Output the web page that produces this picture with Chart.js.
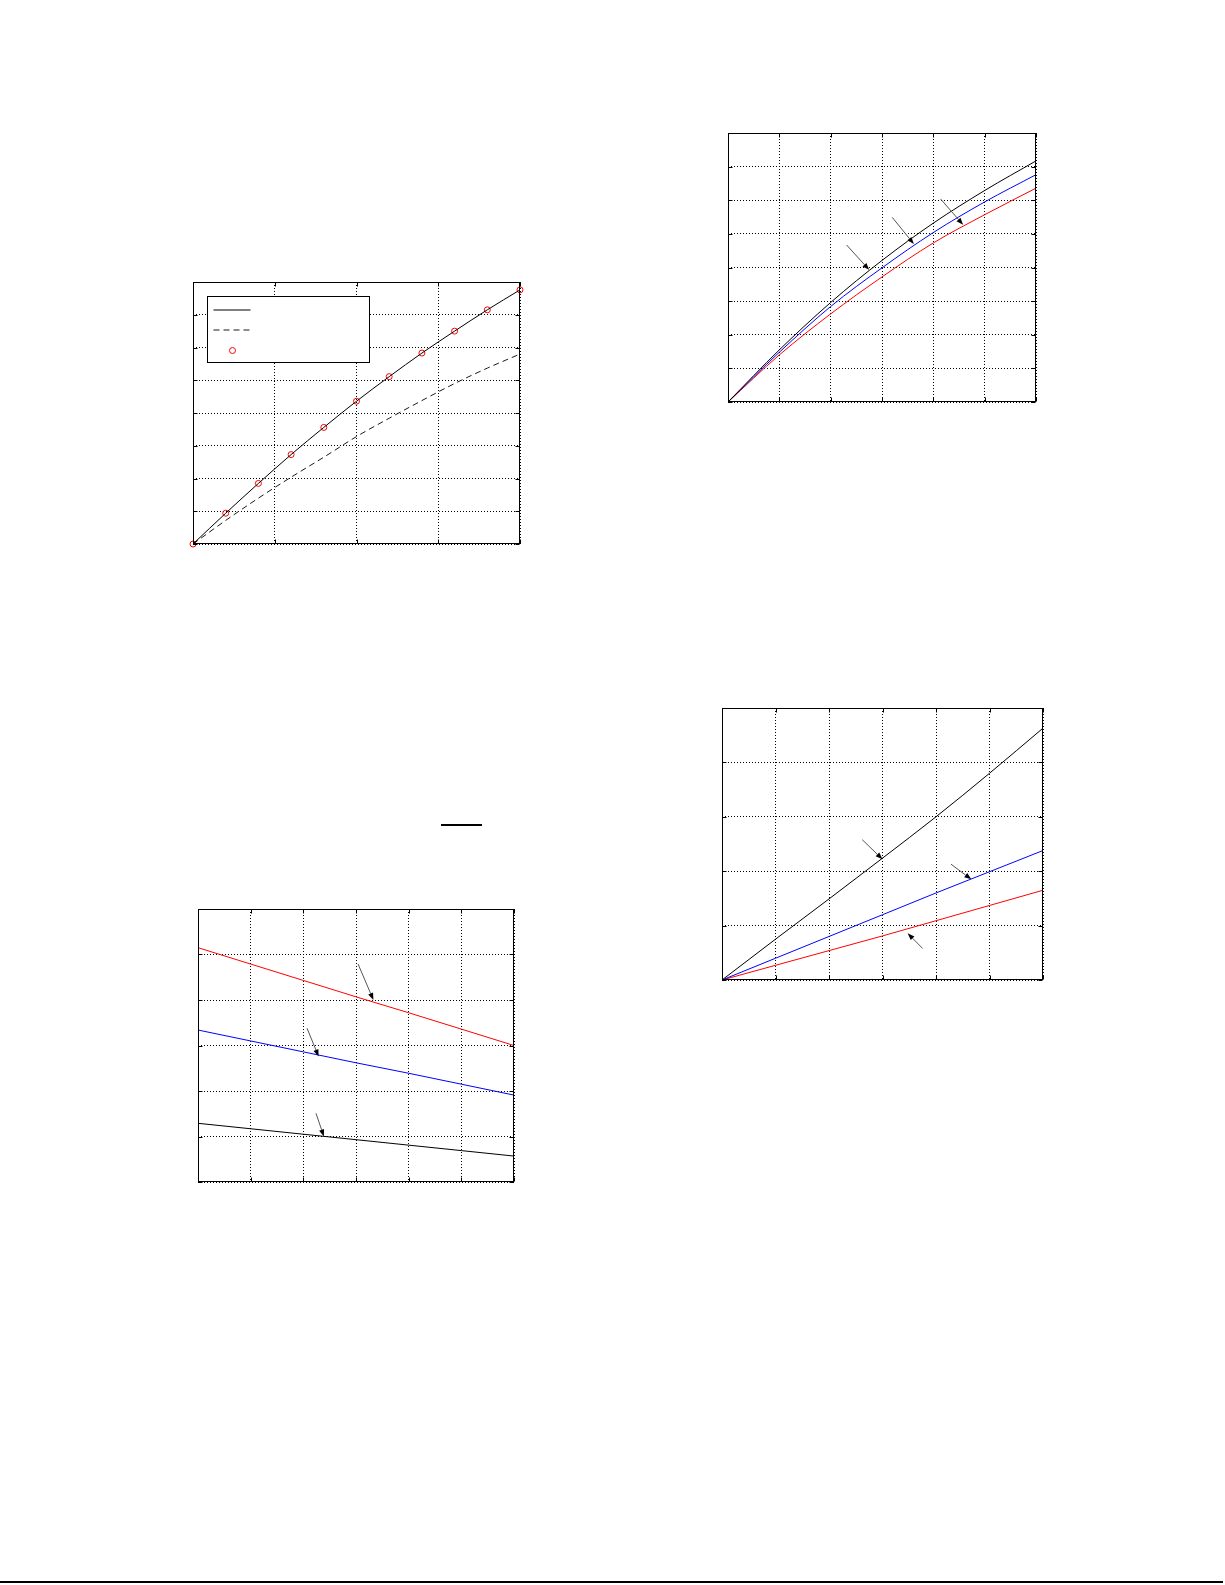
<!DOCTYPE html>
<html>
<head>
<meta charset="utf-8">
<script src="https://cdn.jsdelivr.net/npm/chart.js@4.4.1/dist/chart.umd.min.js"></script>
<style>
html{margin:0;padding:0;background:#fff;width:1225px;height:1585px;overflow:hidden;}
body{margin:0;padding:0;background:#fff;width:1225px;height:1585px;position:relative;overflow:hidden;font-family:"DejaVu Sans",sans-serif;}
::-webkit-scrollbar{display:none;width:0;height:0;}
.box{position:absolute;}
.box canvas{display:block;}
.rule{position:absolute;background:#000;}
</style>
</head>
<body>
<div class="box" id="b1"><canvas id="c1"></canvas></div>
<div class="box" id="b2"><canvas id="c2"></canvas></div>
<div class="box" id="b3"><canvas id="c3"></canvas></div>
<div class="box" id="b4"><canvas id="c4"></canvas></div>
<div class="rule" style="left:441px;top:824px;width:41px;height:2px"></div>
<div class="rule" style="left:0;top:1581px;width:1223px;height:2px"></div>
<script>
// ---------- Chart 1 (top left) ----------
const c1X       = [0, 0.4, 0.8, 1.2, 1.6, 2.0, 2.4, 2.8, 3.2, 3.6, 4.0];
const c1Solid   = [0, 0.94, 1.85, 2.73, 3.56, 4.36, 5.11, 5.83, 6.50, 7.15, 7.76];
const c1Dashed  = [0, 0.72, 1.40, 2.04, 2.65, 3.28, 3.84, 4.38, 4.90, 5.37, 5.80];
const c1Circles = [0, 0.94, 1.85, 2.73, 3.56, 4.36, 5.11, 5.83, 6.50, 7.15, 7.76];
const c1XMax = 4, c1YMax = 8;

// ---------- Chart 2 (top right) ----------
const c2X     = [0, 1, 2, 3, 4, 5, 6];
const c2Black = [0, 1.55, 2.96, 4.21, 5.32, 6.29, 7.17];
const c2Blue  = [0, 1.48, 2.84, 3.99, 5.04, 5.95, 6.76];
const c2Red   = [0, 1.40, 2.62, 3.72, 4.73, 5.57, 6.36];
const c2XMax = 6, c2YMax = 8;
const c2Arrows = [[2.31, 4.67, 2.75, 3.93], [3.20, 5.49, 3.62, 4.70], [4.14, 6.04, 4.58, 5.27]];

// ---------- Chart 3 (bottom left) ----------
const c3X     = [0, 1, 2, 3, 4, 5, 6];
const c3Red   = [5.15, 4.79, 4.43, 4.07, 3.72, 3.36, 3.00];
const c3Blue  = [3.34, 3.10, 2.86, 2.62, 2.39, 2.15, 1.91];
const c3Black = [1.29, 1.17, 1.05, 0.93, 0.81, 0.69, 0.57];
const c3XMax = 6, c3YMax = 6;
const c3Arrows = [[3.04, 4.79, 3.33, 4.0], [2.07, 3.38, 2.29, 2.76], [2.24, 1.51, 2.39, 1.0]];

// ---------- Chart 4 (bottom right) ----------
const c4X     = [0, 1, 2, 3, 4, 5, 6];
const c4Black = [0, 0.75, 1.49, 2.24, 3.00, 3.80, 4.63];
const c4Blue  = [0, 0.40, 0.80, 1.20, 1.60, 1.99, 2.38];
const c4Red   = [0, 0.27, 0.54, 0.81, 1.09, 1.37, 1.65];
const c4XMax = 6, c4YMax = 5;
const c4Arrows = [[2.62, 2.58, 3.0, 2.22], [4.28, 2.13, 4.66, 1.85], [3.75, 0.58, 3.47, 0.86]];

// ---------- layout (plot frames on the page) ----------
const PAD = 6;
const frames = {
  1: [193, 282, 327, 262],
  2: [728, 133, 308, 269],
  3: [198, 909, 316, 273],
  4: [722, 708, 321, 272]
};

const pts = (xs, ys) => xs.map((x, i) => ({x: x, y: ys[i]}));

const framePlugin = {
  id: 'frame',
  afterDraw(chart) {
    const {ctx, chartArea: a, scales: {x, y}} = chart;
    ctx.save();
    ctx.setLineDash([]);
    ctx.strokeStyle = '#000';
    ctx.lineWidth = 1;
    const L = Math.round(a.left) + 0.5, R = Math.round(a.right) - 0.5;
    const T = Math.round(a.top) + 0.5, B = Math.round(a.bottom) - 0.5;
    ctx.strokeRect(L, T, R - L, B - T);
    const t = 4;
    ctx.beginPath();
    x.ticks.forEach(tk => {
      const px = Math.round(x.getPixelForValue(tk.value)) + 0.5;
      ctx.moveTo(px, B); ctx.lineTo(px, B - t);
      ctx.moveTo(px, T); ctx.lineTo(px, T + t);
    });
    y.ticks.forEach(tk => {
      const py = Math.round(y.getPixelForValue(tk.value)) + 0.5;
      ctx.moveTo(L, py); ctx.lineTo(L + t, py);
      ctx.moveTo(R, py); ctx.lineTo(R - t, py);
    });
    ctx.stroke();
    ctx.restore();
  }
};

function arrowPlugin(list) {
  return {
    id: 'arrows',
    afterDatasetsDraw(chart) {
      const {ctx, scales: {x, y}} = chart;
      ctx.save();
      list.forEach(ar => {
        const x0 = x.getPixelForValue(ar[0]), y0 = y.getPixelForValue(ar[1]);
        const x1 = x.getPixelForValue(ar[2]), y1 = y.getPixelForValue(ar[3]);
        const ang = Math.atan2(y1 - y0, x1 - x0);
        const hl = 7, hw = 2.6;
        const bx = x1 - hl * Math.cos(ang), by = y1 - hl * Math.sin(ang);
        ctx.setLineDash([]);
        ctx.strokeStyle = '#555';
        ctx.lineWidth = 1;
        ctx.beginPath(); ctx.moveTo(x0, y0); ctx.lineTo(bx, by); ctx.stroke();
        ctx.fillStyle = '#000';
        ctx.beginPath();
        ctx.moveTo(x1, y1);
        ctx.lineTo(bx + hw * Math.sin(ang), by - hw * Math.cos(ang));
        ctx.lineTo(bx - hw * Math.sin(ang), by + hw * Math.cos(ang));
        ctx.closePath(); ctx.fill();
      });
      ctx.restore();
    }
  };
}

const boxLegend = {
  id: 'boxLegend',
  afterDatasetsDraw(chart) {
    const {ctx, chartArea: a} = chart;
    const ds = chart.data.datasets;
    const L = Math.round(a.left + 14) + 0.5, T = Math.round(a.top + 14) + 0.5, W = 162, H = 66;
    ctx.save();
    ctx.fillStyle = '#fff';
    ctx.fillRect(L, T, W, H);
    ctx.strokeStyle = '#000'; ctx.lineWidth = 1; ctx.setLineDash([]);
    ctx.strokeRect(L, T, W, H);
    const rows = [13.5, 33.5, 54];
    [0, 1].forEach(i => {
      ctx.strokeStyle = ds[i].borderColor;
      ctx.lineWidth = ds[i].borderWidth;
      ctx.setLineDash(ds[i].borderDash || []);
      ctx.beginPath();
      ctx.moveTo(L + 6, T + rows[i]); ctx.lineTo(L + 43, T + rows[i]);
      ctx.stroke();
    });
    ctx.setLineDash([]);
    ctx.strokeStyle = ds[2].pointBorderColor;
    ctx.lineWidth = 1;
    ctx.beginPath(); ctx.arc(L + 25, T + rows[2], ds[2].pointRadius, 0, Math.PI * 2); ctx.stroke();
    ctx.restore();
  }
};

function makeChart(id, xMax, yMax, datasets, plugins) {
  const f = frames[id];
  const div = document.getElementById('b' + id);
  div.style.left = (f[0] - PAD) + 'px';
  div.style.top = (f[1] - PAD) + 'px';
  const w = f[2] + 2 * PAD, h = f[3] + 2 * PAD;
  const cv = document.getElementById('c' + id);
  cv.width = w; cv.height = h;
  cv.style.width = w + 'px'; cv.style.height = h + 'px';
  const axis = (max) => ({
    type: 'linear', min: 0, max: max,
    ticks: {display: false, stepSize: 1},
    grid: {display: true, color: '#000', lineWidth: 1, drawTicks: false},
    border: {display: false, dash: [1, 2]}
  });
  return new Chart(cv, {
    type: 'line',
    data: {datasets: datasets},
    options: {
      responsive: false,
      animation: false,
      events: [],
      layout: {padding: PAD},
      plugins: {legend: {display: false}, tooltip: {enabled: false}, title: {display: false}},
      elements: {point: {radius: 0}, line: {borderWidth: 1}},
      scales: {x: axis(xMax), y: axis(yMax)}
    },
    plugins: [framePlugin].concat(plugins)
  });
}

const lineDs = (xs, ys, color, extra) => Object.assign({
  data: pts(xs, ys), borderColor: color, backgroundColor: color,
  borderWidth: 1, pointRadius: 0, fill: false,
  cubicInterpolationMode: 'monotone'
}, extra || {});

makeChart(1, c1XMax, c1YMax, [
  lineDs(c1X, c1Solid, '#000'),
  lineDs(c1X, c1Dashed, '#1a1a1a', {borderDash: [6, 4]}),
  {data: pts(c1X, c1Circles), showLine: false, pointRadius: 3, pointStyle: 'circle',
   pointBorderColor: '#ff0000', pointBackgroundColor: 'rgba(0,0,0,0)', pointBorderWidth: 1,
   borderColor: '#ff0000', clip: false}
], [boxLegend]);

makeChart(2, c2XMax, c2YMax, [
  lineDs(c2X, c2Black, '#000'),
  lineDs(c2X, c2Blue, '#0000ff'),
  lineDs(c2X, c2Red, '#ff0000')
], [arrowPlugin(c2Arrows)]);

makeChart(3, c3XMax, c3YMax, [
  lineDs(c3X, c3Red, '#ff0000'),
  lineDs(c3X, c3Blue, '#0000ff'),
  lineDs(c3X, c3Black, '#000')
], [arrowPlugin(c3Arrows)]);

makeChart(4, c4XMax, c4YMax, [
  lineDs(c4X, c4Black, '#000'),
  lineDs(c4X, c4Blue, '#0000ff'),
  lineDs(c4X, c4Red, '#ff0000')
], [arrowPlugin(c4Arrows)]);
</script>
</body>
</html>
